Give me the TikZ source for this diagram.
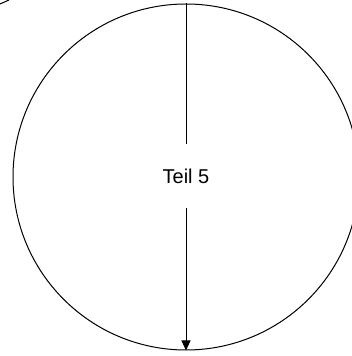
\documentclass[tikz,border=0pt]{standalone}
\usepackage{fontspec}
\setmainfont{Liberation Sans}
\usetikzlibrary{arrows.meta}
\begin{document}
\begin{tikzpicture}[x=1pt,y=1pt,
  stroke/.style={draw=black,line width=1pt},
  partcircle/.style={stroke,circle,minimum size=346pt,inner sep=0pt},
  label/.style={font=\fontsize{20}{24}\selectfont,minimum height=64pt,inner sep=0pt},
  arr/.style={stroke,-{Triangle[length=10pt,width=9pt]}}]
\useasboundingbox (0,0) rectangle (352,356);
\clip (0,0) rectangle (352,356);
\node[partcircle] (c) at (186,179) {};
\node[label] (t) at (186,180) {Teil 5};
\draw[stroke] (c.north) -- (t.north);
\draw[arr] (t.south) -- (c.south);
\coordinate (f1) at (0,352);
\coordinate (f2) at (9,356);
\draw[stroke] (f1) -- (f2);
\end{tikzpicture}
\end{document}
